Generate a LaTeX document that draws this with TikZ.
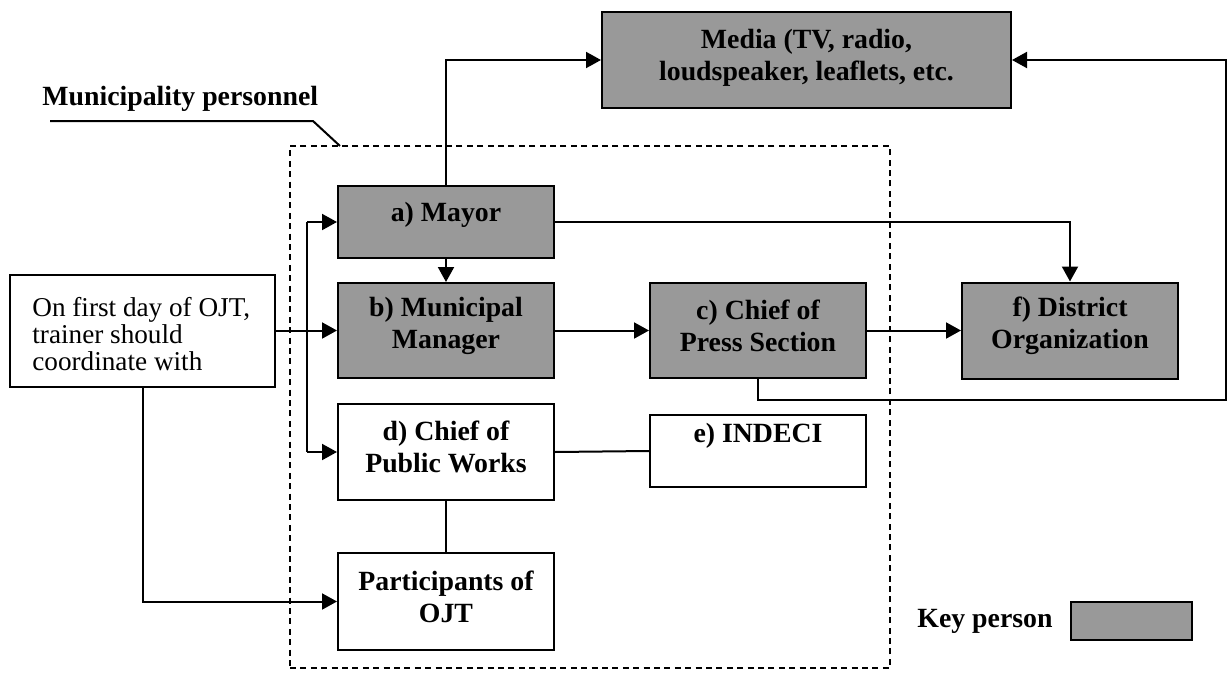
\documentclass[tikz,border=0pt]{standalone}
\usepackage{fontspec}
\setmainfont{Liberation Serif}
\usetikzlibrary{arrows.meta}
\definecolor{keygray}{HTML}{999999}
\begin{document}
\begin{tikzpicture}[x=0.5pt,y=-0.5pt,
  box/.style={draw, line width=1pt, rectangle, minimum width=108pt, inner sep=0pt},
  keybx/.style={box, fill=keygray},
  lbl/.style={font=\fontsize{13.9}{16}\selectfont\bfseries, align=center, inner sep=0pt},
  arr/.style={line width=1pt, -{Triangle[length=7.5pt,width=8pt]}},
  ln/.style={line width=1pt},
  grp/.style={draw, line width=0.75pt, dash pattern=on 3pt off 2.2pt, inner sep=0pt},
]
\useasboundingbox (0,0) rectangle (1228,675);

% group
\node[grp, minimum width=300pt, minimum height=261pt] (group) at (590,407) {};

% boxes
\node[keybx, minimum width=204.5pt, minimum height=48pt] (media) at (806.5,60) {};
\node[lbl] (mediat) at (806.5,58) {Media (TV, radio,\\loudspeaker, leaflets, etc.};
\node[keybx, minimum height=36pt] (mayor) at (446,222) {};
\node[lbl] (mayort) at (446,215) {a) Mayor};
\node[keybx, minimum height=47.5pt] (mgr) at (446,330.5) {};
\node[lbl] (mgrt) at (446,326) {b) Municipal\\Manager};
\node[keybx, minimum height=47.5pt] (press) at (758,330.5) {};
\node[lbl] (presst) at (758,326) {c) Chief of\\Press Section};
\node[keybx, minimum height=48pt] (dist) at (1070,330.5) {};
\node[lbl] (distt) at (1070,326) {f) District\\Organization};
\node[box, minimum height=48pt] (works) at (446,452) {};
\node[lbl] (workst) at (446,447) {d) Chief of\\Public Works};
\node[box, minimum height=36pt] (indeci) at (758,451) {};
\node[lbl] (indecit) at (758,436) {e) INDECI};
\node[box, minimum height=48.5pt] (part) at (446,601.5) {};
\node[lbl] (partt) at (446,597) {Participants of\\OJT};
\node[box, minimum width=132.5pt, minimum height=56pt] (start) at (142.5,330.5) {};
\node[font=\fontsize{13.6}{13.5}\selectfont, align=left, anchor=north west, inner sep=0pt] (startt) at (32,297) {On first day of OJT,\\trainer should\\coordinate with};

% label of group
\node[lbl, anchor=base west] (mplabel) at (42,105) {Municipality personnel};
\coordinate (l1) at (50,121);
\coordinate (l2) at (313,121);
\coordinate (l3) at (340,146);
\draw[ln] (l1) -- (l2) -- (l3);

% connectors
\draw[arr] (mayor.north) |- (media.west);
\draw[arr] (mayor.east) -| (dist.north);
\draw[arr] (mayor.south) -- (mgr.north);
\draw[arr] (start.east) -- (mgr.west);
\coordinate (vt) at (307,222);
\coordinate (vb) at (307,452);
\draw[ln] (vt) -- (vb);
\draw[arr] (vt) -- (mayor.west);
\draw[arr] (vb) -- (works.west);
\draw[arr] (mgr.east) -- (press.west);
\draw[arr] (press.east) -- (dist.west);
\coordinate (pr) at (1226,400);
\draw[arr] (press.south) |- (pr) |- (media.east);
\draw[ln] (works.east) -- (indeci.west);
\draw[ln] (works.south) -- (part.north);
\draw[arr] (start.south) |- (part.west);

% key
\node[lbl, anchor=base west] (keyt) at (917,627) {Key person};
\node[keybx, minimum width=60.5pt, minimum height=19pt] (keybox) at (1131.5,621) {};
\end{tikzpicture}
\end{document}
